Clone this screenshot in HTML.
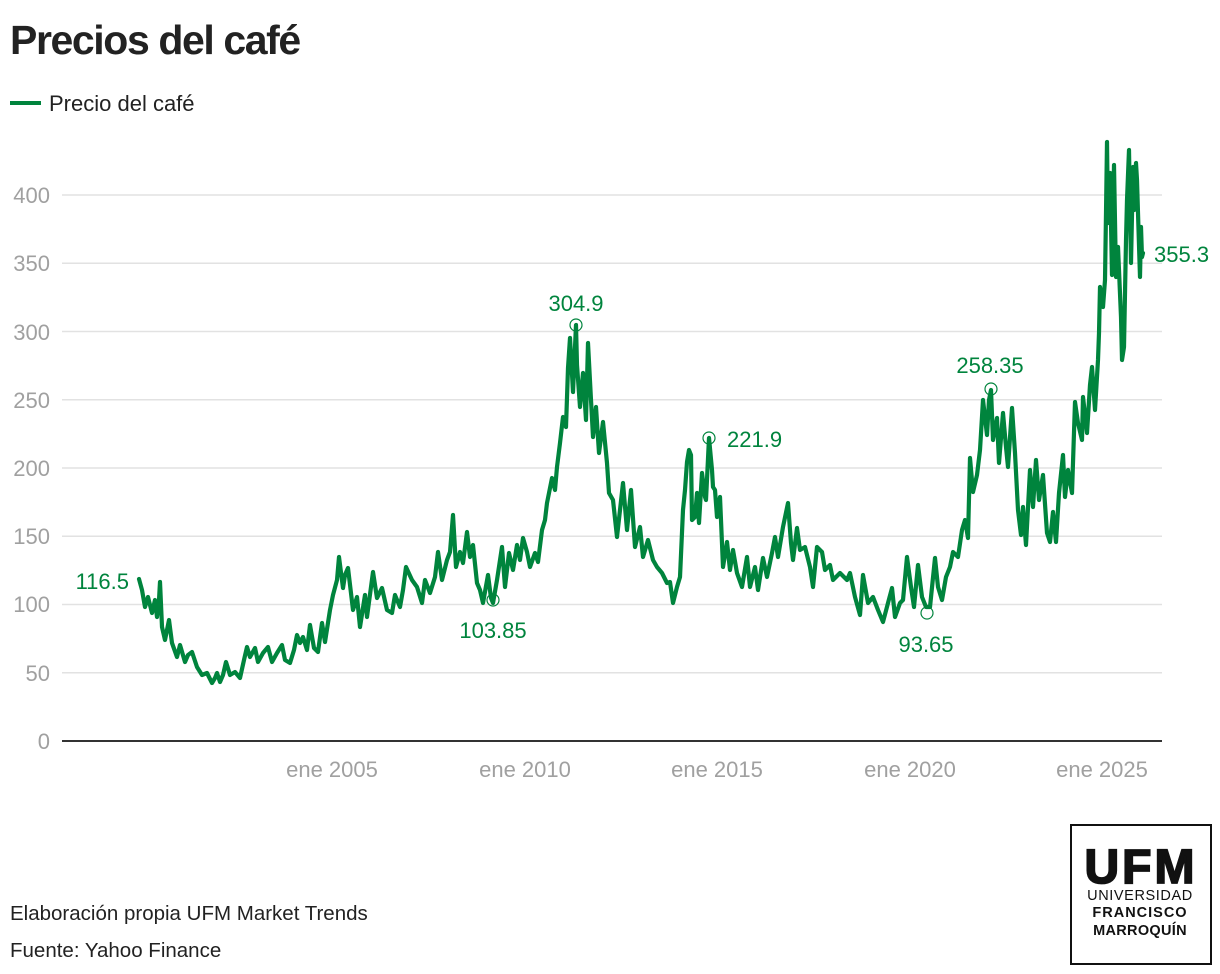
<!DOCTYPE html>
<html>
<head>
<meta charset="utf-8">
<style>
  html,body{margin:0;padding:0;background:#fff;}
  body{width:1220px;height:974px;overflow:hidden;font-family:"Liberation Sans",sans-serif;}
  svg{display:block;}
</style>
</head>
<body>
<svg width="1220" height="974" viewBox="0 0 1220 974" xmlns="http://www.w3.org/2000/svg" font-family="Liberation Sans, sans-serif">
  <rect width="1220" height="974" fill="#fff"/>
  <!-- Title -->
  <text x="10" y="54" font-size="41" font-weight="bold" fill="#222" letter-spacing="-1.4">Precios del café</text>
  <!-- Legend -->
  <line x1="10" y1="103" x2="41" y2="103" stroke="#00843d" stroke-width="4"/>
  <text x="49" y="111" font-size="22" fill="#222">Precio del café</text>

  <!-- Grid -->
  <g stroke="#e2e2e2" stroke-width="1.5">
    <line x1="62" y1="672.75" x2="1162" y2="672.75"/>
    <line x1="62" y1="604.5" x2="1162" y2="604.5"/>
    <line x1="62" y1="536.25" x2="1162" y2="536.25"/>
    <line x1="62" y1="468" x2="1162" y2="468"/>
    <line x1="62" y1="399.75" x2="1162" y2="399.75"/>
    <line x1="62" y1="331.5" x2="1162" y2="331.5"/>
    <line x1="62" y1="263.25" x2="1162" y2="263.25"/>
    <line x1="62" y1="195" x2="1162" y2="195"/>
  </g>
  <line x1="62" y1="741" x2="1162" y2="741" stroke="#333" stroke-width="2"/>

  <!-- Y labels -->
  <g font-size="22" fill="#a0a0a0" text-anchor="end">
    <text x="50" y="749">0</text>
    <text x="50" y="681">50</text>
    <text x="50" y="612">100</text>
    <text x="50" y="544">150</text>
    <text x="50" y="476">200</text>
    <text x="50" y="408">250</text>
    <text x="50" y="340">300</text>
    <text x="50" y="271">350</text>
    <text x="50" y="203">400</text>
  </g>
  <!-- X labels -->
  <g font-size="22" fill="#a0a0a0" text-anchor="middle">
    <text x="332" y="777">ene 2005</text>
    <text x="525" y="777">ene 2010</text>
    <text x="717" y="777">ene 2015</text>
    <text x="910" y="777">ene 2020</text>
    <text x="1102" y="777">ene 2025</text>
  </g>

  <!-- Series -->
  <polyline fill="none" stroke="#00843d" stroke-width="4.2" stroke-linejoin="round" stroke-linecap="round" points="
139,579 142,590 145,607 148,597 152,613 155,600 157,617 159,600 160,582 162,627 165,640 169,620 172,643 177,657 180,645 185,662 188,655 192,652 197,667 202,675 207,673 212,683 215,678 217,673 220,682 223,675 226,662 230,675 235,672 240,678 244,660 247,647 250,657 255,648 258,662 263,653 268,647 272,662 277,653 282,645 285,660 290,663 294,650 297,635 300,643 303,637 307,650 310,625 314,648 318,652 322,623 325,642 330,610 333,595 337,580 339,557 343,588 345,575 348,568 353,610 357,597 360,627 365,595 367,617 373,572 377,598 382,588 387,610 392,613 395,595 400,607 403,590 406,567 412,580 417,587 422,603 425,580 430,593 435,577 438,552 442,580 447,560 450,552 453,515 456,567 460,552 463,563 467,532 470,557 473,545 477,583 480,590 483,603 488,575 491,598 493,603 497,580 502,547 505,587 509,553 513,570 517,545 520,560 523,538 527,552 530,567 535,553 538,562 542,530 545,520 547,503 552,478 555,490 557,467 560,443 563,417 566,427 568,368 570,338 573,392 576,325 577,365 580,407 583,373 586,420 588,343 591,400 593,437 596,407 599,453 603,422 607,463 609,493 613,500 617,537 620,510 623,483 627,530 631,490 635,547 640,527 643,557 648,540 653,560 657,567 662,573 667,583 670,582 673,603 677,587 680,577 683,510 685,490 687,462 689,450 691,455 692,520 695,517 697,493 699,523 702,473 705,497 706,500 709,438 712,470 713,487 715,490 717,517 720,497 723,567 727,542 730,570 733,550 737,573 742,587 747,557 750,587 755,567 758,590 763,558 767,577 772,553 775,537 778,557 783,527 788,503 791,543 793,560 797,528 800,550 805,547 810,567 813,587 817,547 822,552 825,570 830,565 833,580 840,573 847,580 850,573 855,597 860,615 863,575 868,603 873,597 878,610 883,622 888,603 892,588 895,617 900,603 903,600 907,557 911,587 914,607 918,565 922,597 926,607 930,607 935,558 938,587 942,600 946,577 950,567 953,552 958,557 962,530 965,520 968,538 970,458 973,492 977,475 980,450 983,400 987,435 989,400 991,390 993,440 997,418 999,463 1003,413 1006,447 1008,467 1012,408 1015,453 1018,510 1021,535 1023,507 1026,545 1030,470 1033,507 1036,460 1039,500 1043,475 1047,533 1050,542 1053,512 1056,542 1059,493 1063,455 1065,497 1068,470 1072,493 1075,402 1078,423 1082,440 1083,397 1087,433 1090,385 1092,367 1095,410 1098,360 1099,333 1100,287 1103,307 1105,280 1106,213 1107,142 1108,223 1110,173 1112,275 1114,165 1116,277 1118,247 1121,317 1122,360 1124,347 1126,240 1127,200 1129,150 1131,263 1133,167 1134,210 1136,163 1137,180 1138,213 1140,277 1141,227 1142,257 1143,253"/>

  <!-- Markers -->
  <g fill="none" stroke="#00843d" stroke-width="1.2">
    <circle cx="576" cy="325" r="6"/>
    <circle cx="709" cy="438" r="6"/>
    <circle cx="991" cy="389" r="6"/>
    <circle cx="493" cy="600" r="6"/>
    <circle cx="927" cy="613" r="6"/>
  </g>
  <!-- Annotations -->
  <g font-size="22" fill="#00843d">
    <text x="129" y="589" text-anchor="end">116.5</text>
    <text x="576" y="311" text-anchor="middle">304.9</text>
    <text x="727" y="447">221.9</text>
    <text x="990" y="373" text-anchor="middle">258.35</text>
    <text x="493" y="638" text-anchor="middle">103.85</text>
    <text x="926" y="652" text-anchor="middle">93.65</text>
    <text x="1154" y="262">355.3</text>
  </g>

  <!-- Footer -->
  <text x="10" y="920" font-size="20.5" fill="#222">Elaboración propia UFM Market Trends</text>
  <text x="10" y="957" font-size="20.5" fill="#222">Fuente: Yahoo Finance</text>

  <!-- Logo -->
  <rect x="1071" y="825" width="140" height="139" fill="#fff" stroke="#111" stroke-width="2"/>
  <text x="1141" y="883" font-size="48" font-weight="bold" fill="#111" text-anchor="middle" letter-spacing="3" stroke="#111" stroke-width="1.8">UFM</text>
  <text x="1140" y="900" font-size="14.5" fill="#111" text-anchor="middle" letter-spacing="0.6">UNIVERSIDAD</text>
  <text x="1140" y="917" font-size="14.5" font-weight="bold" fill="#111" text-anchor="middle" letter-spacing="1">FRANCISCO</text>
  <text x="1140" y="935" font-size="14.5" font-weight="bold" fill="#111" text-anchor="middle" letter-spacing="0.3">MARROQUÍN</text>
</svg>
</body>
</html>
